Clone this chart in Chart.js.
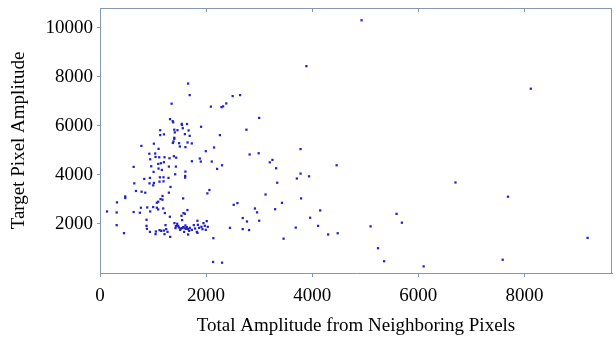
<!DOCTYPE html>
<html lang="en">
<head>
    <meta charset="UTF-8">
    <title>Target vs Neighboring Amplitude</title>
    <script src="https://cdn.jsdelivr.net/npm/chart.js"></script>
    <style>
        body {
            margin: 0;
            padding: 0;
            background: #fff;
        }
        #scatter {
            display: block;
        }
    </style>
</head>
<body>
    <canvas id="scatter" width="616" height="337"></canvas>

    <script>
        // [total amplitude from neighbors, target pixel amplitude]
        var sparsePoints = [
            [4930, 10300], [3890, 8430], [8120, 7510], [6700, 3690], [7690, 3110],
            [9190, 1430], [7590, 540], [6100, 270], [5355, 480], [5240, 1010],
            [5590, 2410], [5690, 2050], [5100, 1900], [4460, 4390], [4150, 2550],
            [3960, 2250], [4110, 1920], [4300, 1570], [4480, 1620], [3690, 1850],
            [3460, 1400], [3780, 5050], [3780, 4050], [3710, 3850], [3940, 3940],
            [3790, 3040], [3430, 2860], [3300, 2600], [3120, 3200], [3340, 3680],
            [3320, 4270], [3200, 4510], [3250, 4610], [2990, 4880], [2820, 4830],
            [3000, 6320], [2760, 5840], [2920, 2630], [2960, 2470], [3000, 2130],
            [2520, 2780], [2590, 2850], [2690, 2240], [2770, 2100], [2690, 1790],
            [2810, 1750], [2450, 1840]
        ];

        var upperPoints = [
            [1660, 7720], [1690, 7250], [1350, 6900], [2090, 6780], [2290, 6760],
            [2320, 6790], [2380, 6910], [2500, 7210], [2640, 7250], [1320, 6270],
            [1370, 6190], [1380, 6140], [1540, 6080], [1545, 6030], [1640, 6070],
            [1560, 5900], [1905, 5960], [1135, 5820], [1205, 5650], [1135, 5620],
            [1400, 5840], [1410, 5730], [1460, 5820], [1670, 5810], [2260, 5620],
            [1600, 5660], [1690, 5590], [1400, 5510], [1400, 5470], [1385, 5360],
            [1373, 5300], [780, 5180], [1016, 5270], [1104, 5060], [1490, 5290],
            [1505, 5155], [1610, 5130], [1650, 5320], [1730, 5280], [2150, 5115],
            [1994, 4964], [930, 4860], [1040, 4870], [1047, 4730], [946, 4635],
            [1116, 4717], [1216, 4717], [1392, 4760], [1436, 4700], [1310, 4677],
            [1147, 4473], [1204, 4514], [1731, 4555], [1881, 4665], [1900, 4540],
            [2107, 4542], [2300, 4390], [2207, 4243], [634, 4324], [965, 4350],
            [1097, 4446], [1104, 4255], [1166, 4200], [1298, 4337], [1430, 4337],
            [1010, 4120], [1610, 4133], [1417, 4023], [834, 3834], [941, 3875],
            [1016, 3670], [1129, 3900], [1122, 3723], [1197, 3900], [1197, 3736],
            [1291, 3875], [933, 3654], [1003, 3572], [646, 3654], [677, 3343],
            [784, 3314], [853, 3273], [1329, 3506], [1298, 3273], [1605, 3887],
            [1605, 3955], [2062, 3383], [2024, 3245], [476, 3122], [476, 3056],
            [320, 2878], [1178, 3137], [1141, 3015], [1178, 2987], [1097, 2905],
            [1072, 2864], [1567, 3040]
        ];

        var lowerPoints = [
            [132, 2508], [314, 2467], [634, 2484], [752, 2455], [771, 2660],
            [890, 2672], [1003, 2688], [1097, 2590], [1072, 2660], [946, 2508],
            [1191, 2631], [1223, 2443], [1648, 2565], [1599, 2414], [1574, 2443],
            [1536, 2332], [1317, 2291], [1548, 2156], [877, 2168], [314, 1950],
            [452, 1624], [877, 1923], [884, 1800], [941, 1677], [1053, 1690],
            [1047, 1583], [1122, 1746], [1154, 1718], [1204, 1731], [1216, 1583],
            [1248, 1787], [1235, 1950], [1273, 1677], [1323, 1473], [1403, 2033],
            [1455, 2005], [1430, 1911], [1423, 1828], [1486, 1855], [1517, 1814],
            [1548, 1828], [1567, 1869], [1592, 1841], [1617, 1800], [1636, 1869],
            [1610, 1937], [1661, 1787], [1693, 1841], [1680, 1718], [1661, 1569],
            [1586, 1677], [1768, 1950], [1793, 1814], [1825, 1677], [1837, 2128],
            [1845, 1964], [1868, 1841], [1912, 1882], [1931, 1787], [1950, 2033],
            [1975, 1923], [1994, 1759], [2012, 2114], [2031, 1882], [2137, 1419],
            [2131, 450], [2301, 421], [1837, 1636], [1731, 1759], [1511, 1759],
            [1473, 1923]
        ];

        var xTicks = [0, 2000, 4000, 6000, 8000];
        var yTicks = [2000, 4000, 6000, 8000, 10000];

        var frameColor = '#8397ad';
        var serif = 'Liberation Serif';

        var allPoints = sparsePoints.concat(upperPoints, lowerPoints).map(function(p) {
            return { x: p[0], y: p[1] };
        });

        function fixedTicks(values) {
            return function(scale) {
                scale.ticks = values.map(function(v) { return { value: v }; });
            };
        }

        // top border with inward ticks, right border plain
        var framePlugin = {
            id: 'frame',
            afterDraw: function(chart) {
                var ctx = chart.ctx;
                var a = chart.chartArea;
                var xs = chart.scales.x;
                ctx.save();
                ctx.strokeStyle = frameColor;
                ctx.lineWidth = 1;
                ctx.beginPath();
                ctx.moveTo(a.left, a.top + 0.5);
                ctx.lineTo(a.right, a.top + 0.5);
                ctx.moveTo(a.right - 0.5, a.top);
                ctx.lineTo(a.right - 0.5, a.bottom);
                xs.ticks.forEach(function(t) {
                    var px = Math.round(xs.getPixelForValue(t.value)) + 0.5;
                    ctx.moveTo(px, a.top);
                    ctx.lineTo(px, a.top + 4);
                });
                ctx.stroke();
                ctx.restore();
            }
        };

        var scatterChart = new Chart(document.getElementById('scatter').getContext('2d'), {
            type: 'scatter',
            data: {
                datasets: [{
                    label: 'Pixels',
                    data: allPoints,
                    pointStyle: 'rect',
                    pointRadius: 1.6,
                    pointBorderWidth: 0,
                    backgroundColor: '#2323c2',
                    borderColor: '#2323c2'
                }]
            },
            options: {
                responsive: false,
                animation: false,
                devicePixelRatio: 1,
                layout: {
                    padding: { top: 8, right: 3, left: 0, bottom: 0 }
                },
                plugins: {
                    legend: { display: false },
                    tooltip: { enabled: false }
                },
                scales: {
                    x: {
                        type: 'linear',
                        min: 0,
                        max: 9650,
                        afterBuildTicks: fixedTicks(xTicks),
                        afterFit: function(scale) {
                            scale.height = 64;
                            scale.paddingLeft = 0;
                            scale.paddingRight = 0;
                        },
                        ticks: {
                            maxRotation: 0,
                            padding: 8,
                            color: '#000',
                            font: { family: serif, size: 19 },
                            callback: function(v) { return String(v); }
                        },
                        grid: {
                            drawOnChartArea: false,
                            tickLength: 4,
                            color: frameColor
                        },
                        border: { color: frameColor },
                        title: {
                            display: true,
                            text: 'Total Amplitude from Neighboring Pixels',
                            color: '#000',
                            font: { family: serif, size: 19 },
                            padding: { top: 2, bottom: 0 }
                        }
                    },
                    y: {
                        min: 0,
                        max: 10800,
                        afterBuildTicks: fixedTicks(yTicks),
                        afterFit: function(scale) {
                            scale.width = 100;
                            scale.paddingTop = 0;
                            scale.paddingBottom = 0;
                        },
                        ticks: {
                            padding: 4,
                            color: '#000',
                            font: { family: serif, size: 19 },
                            callback: function(v) { return String(v); }
                        },
                        grid: {
                            drawOnChartArea: false,
                            tickLength: 3,
                            color: frameColor
                        },
                        border: { color: frameColor },
                        title: {
                            display: true,
                            text: 'Target Pixel Amplitude',
                            color: '#000',
                            font: { family: serif, size: 19 },
                            padding: { top: 8, bottom: 0 }
                        }
                    }
                }
            },
            plugins: [framePlugin]
        });
    </script>
</body>
</html>
